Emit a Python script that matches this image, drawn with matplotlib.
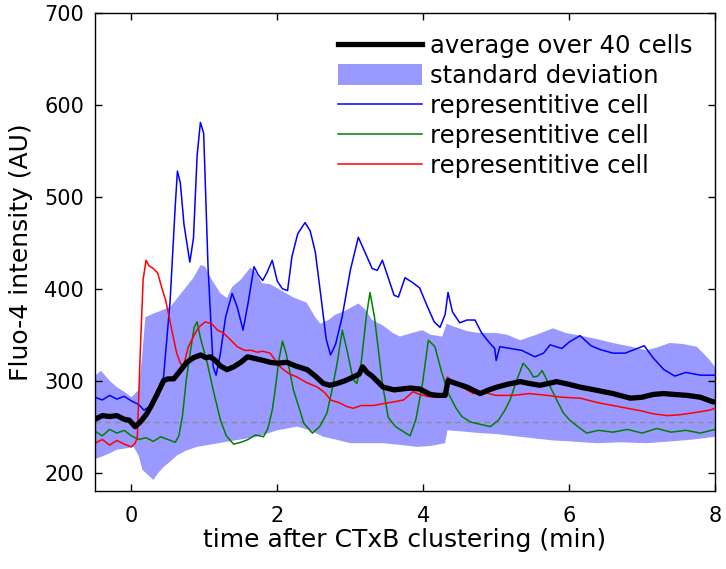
import numpy as np
import matplotlib
matplotlib.use("Agg")
import matplotlib.pyplot as plt

# representative cell 1 (blue)
t_blue = [-0.5, -0.4, -0.3, -0.2, -0.1, 0.0, 0.1, 0.17, 0.25, 0.35, 0.44, 0.53, 0.6, 0.63, 0.67,
          0.72, 0.8, 0.85, 0.9, 0.945, 0.99, 1.05, 1.12, 1.16, 1.22, 1.29, 1.38, 1.45, 1.53, 1.6,
          1.68, 1.74, 1.8, 1.86, 1.93, 2.0, 2.07, 2.14, 2.2, 2.28, 2.38, 2.45, 2.52, 2.6, 2.67,
          2.73, 2.8, 2.89, 3.0, 3.11, 3.2, 3.3, 3.37, 3.44, 3.52, 3.6, 3.66, 3.75, 3.85, 3.95,
          4.05, 4.15, 4.23, 4.3, 4.34, 4.4, 4.5, 4.6, 4.71, 4.8, 4.9, 4.98, 5.0, 5.05, 5.2,
          5.35, 5.53, 5.65, 5.74, 5.9, 6.0, 6.15, 6.3, 6.42, 6.6, 6.77, 6.9, 7.03, 7.15, 7.3,
          7.45, 7.6, 7.8, 8.0]
v_blue = [282, 279, 284, 280, 283, 278, 274, 268, 272, 285, 304, 387, 490, 528, 515,
          470, 429, 455, 545, 581, 569, 423, 315, 306, 330, 369, 395, 380, 355, 385,
          424, 415, 409, 418, 431, 408, 400, 398, 435, 460, 472, 463, 440, 390, 345,
          328, 340, 370, 420, 456, 440, 422, 420, 431, 412, 393, 391, 412, 407, 401,
          382, 364, 358, 372, 396, 375, 363, 366, 366, 352, 342, 335, 322, 337, 335,
          333, 326, 330, 339, 335, 342, 349, 338, 334, 330, 330, 334, 338, 325, 312,
          305, 309, 306, 306]

# representative cell 2 (green)
t_green = [-0.5, -0.4, -0.3, -0.2, -0.1, 0.0, 0.1, 0.2, 0.3, 0.4, 0.5, 0.6, 0.65, 0.7, 0.75,
           0.81, 0.86, 0.9, 0.95, 1.04, 1.12, 1.22, 1.3, 1.4, 1.5, 1.6, 1.7, 1.81, 1.87, 1.93,
           1.97, 2.02, 2.07, 2.12, 2.22, 2.3, 2.36, 2.48, 2.58, 2.68, 2.75, 2.82, 2.89, 2.95,
           3.04, 3.09, 3.15, 3.22, 3.27, 3.33, 3.44, 3.52, 3.62, 3.72, 3.82, 3.9, 3.99, 4.07,
           4.16, 4.25, 4.34, 4.45, 4.53, 4.65, 4.81, 4.92, 5.03, 5.12, 5.19, 5.28, 5.37, 5.45,
           5.51, 5.57, 5.63, 5.7, 5.83, 5.92, 6.01, 6.12, 6.24, 6.4, 6.6, 6.8, 7.0, 7.2, 7.4,
           7.6, 7.8, 8.0]
v_green = [245, 240, 247, 243, 246, 240, 236, 238, 234, 239, 236, 233, 240, 262, 300,
           333, 358, 364, 345, 319, 290, 257, 240, 231, 233, 236, 241, 239, 248, 268,
           290, 322, 343, 330, 290, 270, 254, 243, 250, 265, 290, 319, 355, 335,
           301, 297, 320, 370, 396, 370, 297, 260, 250, 245, 240, 258, 297, 344,
           337, 310, 287, 270, 261, 255, 252, 250, 257, 268, 279, 300, 319, 312,
           304, 305, 311, 300, 279, 265, 257, 250, 243, 246, 244, 247, 243, 248, 244,
           246, 243, 247]

# representative cell 3 (red)
t_red = [-0.5, -0.4, -0.3, -0.2, -0.1, 0.0, 0.05, 0.08, 0.12, 0.16, 0.2, 0.24, 0.3, 0.36, 0.42,
         0.47, 0.52, 0.56, 0.62, 0.67, 0.71, 0.78, 0.85, 0.92, 1.01, 1.1, 1.18, 1.26, 1.35,
         1.45, 1.55, 1.65, 1.72, 1.8, 1.9, 2.04, 2.15, 2.27, 2.4, 2.55, 2.65, 2.73, 2.85, 2.95,
         3.04, 3.15, 3.32, 3.45, 3.6, 3.73, 3.86, 3.92, 4.05, 4.15, 4.23, 4.3, 4.33, 4.45, 4.6,
         4.69, 4.8, 5.0, 5.24, 5.45, 5.7, 5.9, 6.15, 6.4, 6.6, 6.8, 7.0, 7.15, 7.35, 7.52, 7.7,
         7.93, 8.0]
v_red = [232, 236, 230, 235, 231, 228, 232, 238, 330, 410, 431, 425, 422, 417, 400,
         387, 368, 352, 330, 319, 315, 337, 348, 358, 364, 362, 355, 352, 345,
         337, 333, 333, 331, 332, 330, 315, 308, 304, 298, 293, 287, 279, 276, 272,
         270, 273, 273, 275, 277, 279, 288, 286, 283, 282, 282, 285, 304, 296, 290,
         286, 288, 284, 284, 286, 284, 282, 281, 276, 273, 270, 267, 264, 262, 263, 265,
         268, 270]

# average over 40 cells (black)
t_mean = [-0.5, -0.4, -0.3, -0.2, -0.1, -0.03, 0.05, 0.12, 0.2, 0.26, 0.35, 0.44, 0.5, 0.58,
          0.66, 0.76, 0.85, 0.95, 1.02, 1.08, 1.15, 1.22, 1.31, 1.4, 1.5, 1.59, 1.7, 1.81, 1.9,
          2.0, 2.13, 2.25, 2.41, 2.52, 2.63, 2.72, 2.82, 2.93, 3.04, 3.12, 3.17, 3.23, 3.3,
          3.45, 3.6, 3.82, 3.95, 4.1, 4.2, 4.3, 4.34, 4.45, 4.6, 4.78, 4.9, 5.01, 5.15, 5.33,
          5.45, 5.6, 5.83, 6.0, 6.15, 6.35, 6.6, 6.84, 7.0, 7.15, 7.29, 7.45, 7.62, 7.8, 7.97, 8.0]
v_mean = [258, 262, 261, 262, 258, 257, 250, 255, 263, 271, 285, 300, 302, 302,
          310, 320, 325, 328, 325, 326, 322, 316, 312, 315, 320, 326, 324, 322, 320,
          319, 320, 316, 312, 305, 297, 295, 297, 300, 304, 307, 315, 309, 305,
          293, 290, 292, 291, 285, 284, 284, 300, 297, 293, 286, 290, 293, 296, 299,
          297, 295, 299, 296, 293, 290, 286, 281, 282, 285, 286, 285, 284, 282, 277, 277]

# standard deviation band
t_upper = [-0.5, -0.42, -0.3, -0.2, -0.1, 0.0, 0.1, 0.15, 0.19, 0.3, 0.4, 0.53, 0.65, 0.77,
           0.85, 0.95, 1.01, 1.1, 1.22, 1.31, 1.38, 1.5, 1.63, 1.7, 1.79, 1.9, 1.97, 2.1, 2.21,
           2.3, 2.4, 2.52, 2.59, 2.7, 2.8, 2.93, 3.02, 3.11, 3.2, 3.3, 3.45, 3.58, 3.68, 3.85,
           3.99, 4.1, 4.26, 4.32, 4.45, 4.6, 4.75, 4.99, 5.15, 5.33, 5.55, 5.78, 5.95, 6.15,
           6.4, 6.6, 6.85, 7.06, 7.2, 7.38, 7.55, 7.75, 7.9, 8.0]
v_upper = [305, 311, 300, 293, 288, 282, 290, 330, 369, 373, 376, 380, 392, 404,
           412, 426, 424, 410, 395, 390, 402, 410, 423, 418, 406, 405, 402, 396, 391,
           388, 385, 369, 362, 366, 372, 376, 380, 384, 378, 366, 360, 352, 348, 352,
           355, 350, 348, 362, 358, 354, 352, 352, 350, 344, 350, 357, 352, 349,
           345, 341, 337, 333, 336, 341, 340, 337, 325, 315]
t_lower = [-0.5, -0.42, -0.3, -0.2, -0.1, 0.03, 0.1, 0.15, 0.22, 0.3, 0.37, 0.44, 0.53, 0.63,
           0.75, 0.9, 1.05, 1.26, 1.5, 1.72, 2.0, 2.27, 2.45, 2.63, 2.8, 3.0, 3.2, 3.45, 3.7,
           3.92, 4.1, 4.3, 4.33, 4.5, 4.78, 5.0, 5.33, 5.55, 5.78, 6.0, 6.38, 6.7, 7.06, 7.4,
           7.7, 8.0]
v_lower = [215, 217, 221, 225, 226, 228, 218, 203, 198, 192, 200, 206, 212, 219,
           224, 228, 230, 233, 236, 239, 246, 250, 246, 239, 236, 232, 232, 232, 230,
           228, 229, 232, 246, 245, 243, 242, 239, 237, 235, 234, 232, 233, 232, 234,
           236, 239]

baseline = 255

fig = plt.figure(figsize=(7.26, 5.69), dpi=100)
ax = fig.add_axes([95 / 726, 78 / 569, 620 / 726, 478 / 569])

band = ax.fill(np.concatenate([t_upper, t_lower[::-1]]),
               np.concatenate([v_upper, v_lower[::-1]]),
               color="#9999ff", lw=0, label="standard deviation")[0]
ax.axhline(baseline, ls="--", color="0.55", lw=1, dashes=(4, 3))

l_blue, = ax.plot(t_blue, v_blue, color="#0000ff", lw=1.1, label="representitive cell")
l_green, = ax.plot(t_green, v_green, color="#008000", lw=1.1, label="representitive cell")
l_red, = ax.plot(t_red, v_red, color="#ff0000", lw=1.1, label="representitive cell")
l_mean, = ax.plot(t_mean, v_mean, color="black", lw=3.8, label="average over 40 cells")

ax.set_xlim(-0.5, 8)
ax.set_ylim(180, 700)
ax.set_xticks([0, 2, 4, 6, 8])
ax.set_yticks([200, 300, 400, 500, 600, 700])
ax.tick_params(direction="in", top=True, right=True, length=5, width=1, labelsize=15)
ax.tick_params(axis="x", pad=11)
ax.tick_params(axis="y", pad=8)
for s in ax.spines.values():
    s.set_linewidth(1.0)

ax.set_xlabel("time after CTxB clustering (min)", fontsize=18, labelpad=1)
ax.set_ylabel("Fluo-4 intensity (AU)", fontsize=18, labelpad=8)

ax.legend(handles=[l_mean, band, l_blue, l_green, l_red], loc="upper left",
          bbox_to_anchor=(338 / 726, 1 - 34 / 569), bbox_transform=fig.transFigure,
          frameon=False, fontsize=17.5, handlelength=3.45, handletextpad=0.33,
          labelspacing=0.25, handleheight=0.95, borderpad=0, borderaxespad=0)

fig.savefig("out.png", dpi=100)
